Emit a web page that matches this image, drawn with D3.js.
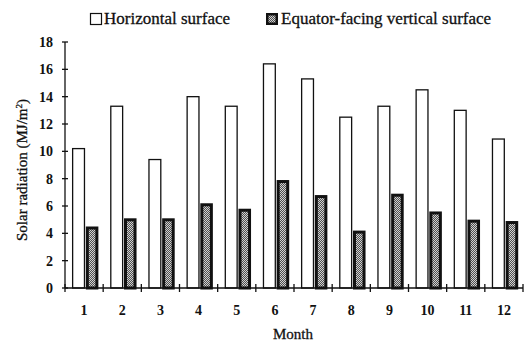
<!DOCTYPE html>
<html>
<head>
<meta charset="utf-8">
<script src="https://cdn.jsdelivr.net/npm/d3@7"></script>
<style>
body{margin:0;background:#fff;}
text{font-family:"Liberation Serif","Times New Roman",serif;fill:#111;}
</style>
</head>
<body>
<script>
// data
var months = ["1","2","3","4","5","6","7","8","9","10","11","12"];
var horizontal = [10.2,13.3,9.4,14.0,13.3,16.4,15.3,12.5,13.3,14.5,13.0,10.9];
var vertical = [4.5,5.1,5.1,6.2,5.8,7.9,6.8,4.2,6.9,5.6,5.0,4.9];
var yTicks = [0,2,4,6,8,10,12,14,16,18];
var seriesNames = ["Horizontal surface","Equator-facing vertical surface"];

var svgwidth = 527, svgheight = 345;
var margin = {top: 42, right: 4, bottom: 57, left: 65};
var width = 523 - margin.left, height = 288 - margin.top;

var svg = d3.select("body").append("svg")
	.attr("width", svgwidth)
	.attr("height", svgheight);

// fine crosshatch for the dark bars
var defs = svg.append("defs");
var pat = defs.append("pattern")
	.attr("id","hatch")
	.attr("patternUnits","userSpaceOnUse")
	.attr("width",2).attr("height",2);
pat.append("rect").attr("width",2).attr("height",2).attr("fill","#d0d0d0");
pat.append("rect").attr("x",0).attr("y",0).attr("width",1).attr("height",1).attr("fill","#505050");
pat.append("rect").attr("x",1).attr("y",1).attr("width",1).attr("height",1).attr("fill","#505050");

var x = d3.scaleBand().domain(months).range([0, width]);
var y = d3.scaleLinear().domain([0,18]).range([height, 0]);

var g = svg.append("g")
	.attr("transform","translate("+margin.left+","+margin.top+")");

// bars
var bw = x.bandwidth();
g.selectAll(".hbar").data(months).enter().append("rect")
	.attr("class","hbar")
	.attr("x", function(d){return x(d) + bw*0.2;})
	.attr("y", function(d,i){return y(horizontal[i]);})
	.attr("width", bw*0.31)
	.attr("height", function(d,i){return height - y(horizontal[i]);})
	.attr("fill","#fff").attr("stroke","#111").attr("stroke-width",1.3);

g.selectAll(".vbar").data(months).enter().append("rect")
	.attr("class","vbar")
	.attr("x", function(d){return x(d) + bw*0.585;})
	.attr("y", function(d,i){return y(vertical[i]) + 1.5;})
	.attr("width", bw*0.25)
	.attr("height", function(d,i){return height - y(vertical[i]) - 1.5;})
	.attr("fill","url(#hatch)").attr("stroke","#111").attr("stroke-width",3);

// y axis
g.append("line").attr("x1",0).attr("x2",0).attr("y1",0).attr("y2",height)
	.attr("stroke","#111").attr("stroke-width",1.3);
g.selectAll(".ytick").data(yTicks).enter().append("line")
	.attr("x1",-3).attr("x2",3)
	.attr("y1",function(d){return y(d);}).attr("y2",function(d){return y(d);})
	.attr("stroke","#111").attr("stroke-width",1.3);
g.selectAll(".ylab").data(yTicks).enter().append("text")
	.attr("x",-12).attr("y",function(d){return y(d)+5;})
	.attr("text-anchor","end").style("font-size","14px").style("font-weight","bold")
	.text(function(d){return d;});

// x axis
g.append("line").attr("x1",0).attr("x2",width).attr("y1",height).attr("y2",height)
	.attr("stroke","#111").attr("stroke-width",1.3);
var xt = months.map(function(d){return x(d);}).concat([width]);
g.selectAll(".xtick").data(xt).enter().append("line")
	.attr("x1",function(d){return d;}).attr("x2",function(d){return d;})
	.attr("y1",height-4).attr("y2",height+4)
	.attr("stroke","#111").attr("stroke-width",1.3);
g.selectAll(".xlab").data(months).enter().append("text")
	.attr("x",function(d){return x(d)+bw/2;}).attr("y",height+27)
	.attr("text-anchor","middle").style("font-size","14px").style("font-weight","bold")
	.text(function(d){return d;});

svg.append("text").attr("x",293).attr("y",339)
	.attr("text-anchor","middle").style("font-size","15px")
	.style("stroke","#111").style("stroke-width",0.3)
	.text("Month");

var yl = svg.append("text")
	.attr("transform","translate(27,170) rotate(-90)")
	.attr("text-anchor","middle").style("font-size","15px")
	.style("stroke","#111").style("stroke-width",0.3);
yl.append("tspan").text("Solar radiation (MJ/m");
yl.append("tspan").attr("dy",-5).style("font-size","9px").text("2");
yl.append("tspan").attr("dy",5).text(")");

// legend
var leg = svg.append("g");
leg.append("rect").attr("x",90.5).attr("y",13.5).attr("width",11).attr("height",11)
	.attr("fill","#fff").attr("stroke","#111").attr("stroke-width",1.2);
leg.append("text").attr("x",104).attr("y",24).style("font-size","17px")
	.style("stroke","#111").style("stroke-width",0.3).text(seriesNames[0]);
leg.append("rect").attr("x",266).attr("y",13).attr("width",12).attr("height",12)
	.attr("fill","#111");
leg.append("rect").attr("x",268.5).attr("y",15.5).attr("width",7).attr("height",7)
	.attr("fill","url(#hatch)");
leg.append("text").attr("x",281).attr("y",24).style("font-size","17px")
	.style("stroke","#111").style("stroke-width",0.3).text(seriesNames[1]);
</script>
</body>
</html>
